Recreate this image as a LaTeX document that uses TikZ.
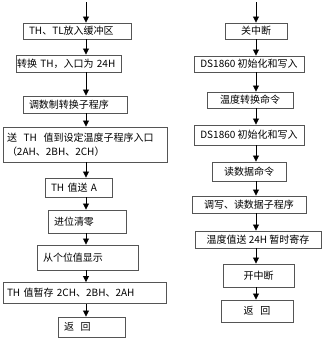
\documentclass[tikz,border=0pt]{standalone}
\usepackage{fontspec}
\setmainfont{Noto Sans CJK SC}
\usetikzlibrary{arrows.meta}
\definecolor{boxline}{HTML}{555555}
\tikzset{
  flow/.style={-{Triangle[length=6pt,width=6pt]},line width=0.8pt,black},
  box/.style={draw=boxline,line width=0.9pt,inner sep=2pt,align=center,
    font=\fontsize{10}{14}\selectfont},
  lbox/.style={box,inner xsep=6pt,align=left}
}
\begin{document}
\begin{tikzpicture}[x=1pt,y=-1pt]
\useasboundingbox (0,0) rectangle (332,338);
% left column
\coordinate (ltop) at (86,2);
\node[lbox,minimum width=108pt,minimum height=16pt,text width=96pt] (l1) at (77,31) {TH、TL放入缓冲区};
\node[lbox,minimum width=105pt,minimum height=17pt,text width=103pt,inner xsep=1pt] (l2) at (68.5,63.5) {转换 TH，入口为 24H};
\node[lbox,minimum width=104pt,minimum height=17pt,text width=92pt] (l3) at (75,104.5) {调数制转换子程序};
\node[lbox,minimum width=164pt,minimum height=35pt,text width=156pt,inner xsep=4pt] (l4) at (85,144.5)
  {送\ \ TH\ \ 值到设定温度子程序入口\\（2AH、2BH、2CH）};
\node[lbox,minimum width=67pt,minimum height=19pt,text width=55pt] (l5) at (78.5,187.5) {TH 值送 A};
\node[lbox,minimum width=78pt,minimum height=23pt,text width=66pt] (l6) at (87,221.5) {进位清零};
\node[lbox,minimum width=101pt,minimum height=25pt,text width=89pt] (l7) at (87.5,257.5) {从个位值显示};
\node[lbox,minimum width=163pt,minimum height=21pt,text width=155pt,inner xsep=4pt] (l8) at (84.5,293) {TH 值暂存 2CH、2BH、2AH};
\node[lbox,minimum width=67pt,minimum height=20pt,text width=55pt] (l9) at (91.5,327) {返\ \ 回};
\draw[flow] (ltop) -- (l1.north -| ltop);
\foreach \a/\b in {l1/l2,l2/l3,l3/l4,l4/l5,l5/l6,l6/l7,l7/l8,l8/l9}
  \draw[flow] (\a.south -| ltop) -- (\b.north -| ltop);
% right column
\coordinate (rtop) at (256,2);
\node[box,minimum width=62pt,minimum height=16pt] (r1) at (256,31) {关中断};
\node[box,minimum width=110pt,minimum height=16pt] (r2) at (249,64) {DS1860 初始化和写入};
\node[box,minimum width=86pt,minimum height=16pt] (r3) at (250,100) {温度转换命令};
\node[box,minimum width=110pt,minimum height=20pt] (r4) at (249,135) {DS1860 初始化和写入};
\node[box,minimum width=74pt,minimum height=19pt] (r5) at (249,171.5) {读数据命令};
\node[box,minimum width=114pt,minimum height=17pt] (r6) at (249,204.5) {调写、读数据子程序};
\node[box,minimum width=126pt,minimum height=17pt] (r7) at (258,239.5) {温度值送 24H 暂时寄存};
\node[box,minimum width=71pt,minimum height=23pt] (r8) at (258.5,275.5) {开中断};
\node[box,minimum width=72pt,minimum height=22pt] (r9) at (257,311) {返\ \ \ 回};
\draw[flow] (rtop) -- (r1.north -| rtop);
\foreach \a/\b in {r1/r2,r2/r3,r3/r4,r4/r5,r5/r6,r6/r7,r7/r8,r8/r9}
  \draw[flow] (\a.south -| rtop) -- (\b.north -| rtop);
\end{tikzpicture}
\end{document}
